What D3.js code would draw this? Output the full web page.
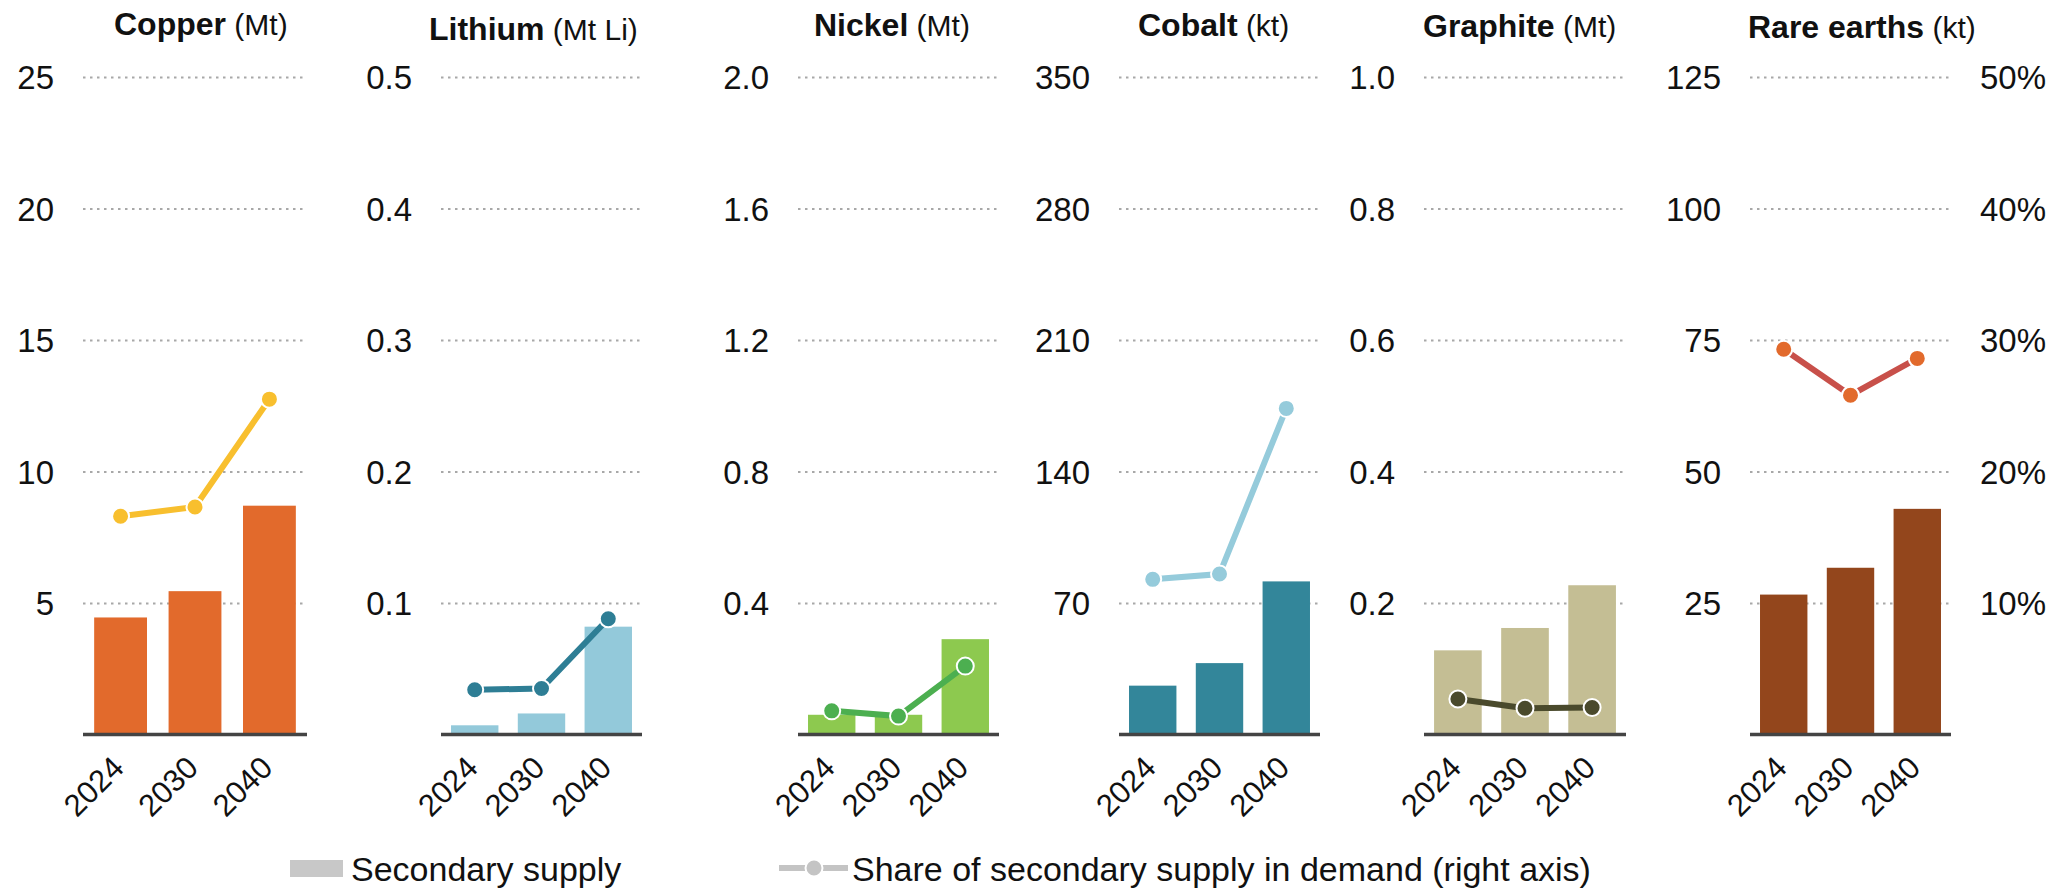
<!DOCTYPE html>
<html>
<head>
<meta charset="utf-8">
<script src="https://cdn.jsdelivr.net/npm/d3@7"></script>
<style>
  html, body { margin: 0; padding: 0; background: #fff; }
  svg { display: block; font-family: "Liberation Sans", Arial, Helvetica, sans-serif; }
</style>
</head>
<body>
<svg id="chart" width="2064" height="889"></svg>
<script>
// ---------------- DATA ----------------
const years = ["2024", "2030", "2040"];
const minerals = ["Copper", "Lithium", "Nickel", "Cobalt", "Graphite", "Rare earths"];
const units = ["(Mt)", "(Mt Li)", "(Mt)", "(kt)", "(Mt)", "(kt)"];

// Secondary supply (left axis, in each panel's unit)
const copperSupply   = [4.45, 5.45, 8.7];
const lithiumSupply  = [0.007, 0.016, 0.082];
const nickelSupply   = [0.06, 0.06, 0.29];
const cobaltSupply   = [26, 38, 81.5];
const graphiteSupply = [0.128, 0.162, 0.227];
const rareEarthSupply = [26.6, 31.7, 42.9];

// Share of secondary supply in demand (right axis, %)
const copperShare   = [16.6, 17.3, 25.5];
const lithiumShare  = [3.4, 3.5, 8.8];
const nickelShare   = [1.8, 1.4, 5.2];
const cobaltShare   = [11.8, 12.2, 24.8];
const graphiteShare = [2.7, 2.0, 2.05];
const rareEarthShare = [29.3, 25.8, 28.6];

// Left-axis tick labels per panel
const copperTicks   = [5, 10, 15, 20, 25];
const lithiumTicks  = [0.1, 0.2, 0.3, 0.4, 0.5];
const nickelTicks   = [0.4, 0.8, 1.2, 1.6, 2.0];
const cobaltTicks   = [70, 140, 210, 280, 350];
const graphiteTicks = [0.2, 0.4, 0.6, 0.8, 1.0];
const rareEarthTicks = [25, 50, 75, 100, 125];
// Right-axis tick labels (%)
const shareTicks = [10, 20, 30, 40, 50];

const legendLabels = ["Secondary supply", "Share of secondary supply in demand (right axis)"];

const supplies = [copperSupply, lithiumSupply, nickelSupply, cobaltSupply, graphiteSupply, rareEarthSupply];
const shares = [copperShare, lithiumShare, nickelShare, cobaltShare, graphiteShare, rareEarthShare];
const ticksList = [copperTicks, lithiumTicks, nickelTicks, cobaltTicks, graphiteTicks, rareEarthTicks];

// ---------------- LAYOUT / STYLE ----------------
const layout = [
  { x0: 83,   x1: 307,  tx: 114,  ty: 35, fmt: d3.format("d"),   bar: "#E26A2C", line: "#F8BF2E", marker: "#F8BF2E" },
  { x0: 441,  x1: 642,  tx: 429,  ty: 40, fmt: d3.format(".1f"), bar: "#93C9DA", line: "#2E7E95", marker: "#2E7E95" },
  { x0: 798,  x1: 999,  tx: 814,  ty: 36, fmt: d3.format(".1f"), bar: "#8DC94F", line: "#4CAF50", marker: "#4CAF50" },
  { x0: 1119, x1: 1320, tx: 1138, ty: 36, fmt: d3.format("d"),   bar: "#33869A", line: "#95CBDB", marker: "#95CBDB" },
  { x0: 1424, x1: 1626, tx: 1423, ty: 37, fmt: d3.format(".1f"), bar: "#C4BE94", line: "#4A4A2C", marker: "#4A4A2C" },
  { x0: 1750, x1: 1951, tx: 1748, ty: 38, fmt: d3.format("d"),   bar: "#93461C", line: "#C8504A", marker: "#E26A2C" }
];
const yTop = 77, yBot = 734.5;
const textColor = "#111";

const svg = d3.select("#chart");

const yR = d3.scaleLinear().domain([0, d3.max(shareTicks)]).range([yBot, yTop]);

layout.forEach((p, i) => {
  const g = svg.append("g");
  const x = d3.scaleBand().domain(years).range([p.x0, p.x1]).paddingInner(0.29).paddingOuter(0.15);
  const y = d3.scaleLinear().domain([0, d3.max(ticksList[i])]).range([yBot, yTop]);
  const w = p.x1 - p.x0;

  // Gridlines + left tick labels
  const ax = g.append("g")
    .attr("transform", `translate(${p.x0},0)`)
    .call(d3.axisLeft(y).tickValues(ticksList[i]).tickSize(-w).tickPadding(29).tickFormat(p.fmt));
  ax.select(".domain").remove();
  ax.selectAll(".tick line")
    .attr("stroke", "#a8a8a8")
    .attr("stroke-width", 2)
    .attr("stroke-dasharray", "2.5,4.5");
  ax.selectAll(".tick text")
    .attr("fill", textColor)
    .style("font-size", "33px")
    .attr("dy", "0.35em");

  // Bars
  g.append("g").selectAll("rect")
    .data(supplies[i])
    .join("rect")
    .attr("x", (d, j) => x(years[j]))
    .attr("y", d => y(d))
    .attr("width", x.bandwidth())
    .attr("height", d => yBot - y(d))
    .attr("fill", p.bar);

  // Baseline
  g.append("line")
    .attr("x1", p.x0).attr("x2", p.x1)
    .attr("y1", yBot).attr("y2", yBot)
    .attr("stroke", "#444").attr("stroke-width", 3.5);

  // X labels
  const xa = g.append("g")
    .attr("transform", `translate(0,${yBot})`)
    .call(d3.axisBottom(x).tickSize(0));
  xa.select(".domain").remove();
  xa.selectAll(".tick text")
    .attr("x", 0).attr("y", 0).attr("dy", 0)
    .attr("transform", "translate(5,35) rotate(-45)")
    .style("text-anchor", "end")
    .style("font-size", "31px")
    .attr("fill", textColor);

  // Share line
  const pts = shares[i].map((v, j) => [x(years[j]) + x.bandwidth() / 2, yR(v)]);
  g.append("path")
    .attr("d", d3.line()(pts))
    .attr("fill", "none")
    .attr("stroke", p.line)
    .attr("stroke-width", 6);
  g.append("g").selectAll("circle")
    .data(pts)
    .join("circle")
    .attr("cx", d => d[0]).attr("cy", d => d[1])
    .attr("r", 8.5)
    .attr("fill", p.marker)
    .attr("stroke", "#fff")
    .attr("stroke-width", 2);

  // Title
  const t = g.append("text")
    .attr("x", p.tx).attr("y", p.ty)
    .attr("fill", textColor);
  t.append("tspan").text(minerals[i]).style("font-weight", "bold").style("font-size", "32px");
  t.append("tspan").text(" " + units[i]).style("font-size", "30px");

  // Right axis on last panel
  if (i === layout.length - 1) {
    const ra = g.append("g")
      .attr("transform", `translate(${p.x1},0)`)
      .call(d3.axisRight(yR).tickValues(shareTicks).tickSize(0).tickPadding(29).tickFormat(d => d + "%"));
    ra.select(".domain").remove();
    ra.selectAll(".tick text")
      .attr("fill", textColor)
      .style("font-size", "33px")
      .attr("dy", "0.35em");
  }
});

// Legend
const lg = svg.append("g");
lg.append("rect").attr("x", 290).attr("y", 860).attr("width", 53).attr("height", 17).attr("fill", "#c8c8c8");
lg.append("text").attr("x", 351).attr("y", 869).attr("dy", "0.35em")
  .style("font-size", "34px").attr("fill", textColor).text(legendLabels[0]);
lg.append("line").attr("x1", 779).attr("x2", 848).attr("y1", 868).attr("y2", 868)
  .attr("stroke", "#c4c4c4").attr("stroke-width", 6);
lg.append("circle").attr("cx", 814).attr("cy", 868).attr("r", 8.5)
  .attr("fill", "#c4c4c4").attr("stroke", "#fff").attr("stroke-width", 2);
lg.append("text").attr("x", 852).attr("y", 869).attr("dy", "0.35em")
  .style("font-size", "34px").attr("fill", textColor).text(legendLabels[1]);
</script>
</body>
</html>
